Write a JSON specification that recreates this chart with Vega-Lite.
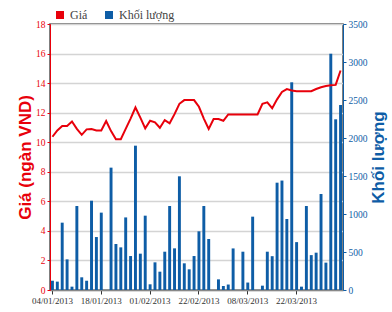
{
  "$schema": "https://vega.github.io/schema/vega-lite/v6.json",
  "width": 293,
  "height": 266,
  "autosize": {"type": "none"},
  "padding": {"left": 50, "top": 24, "right": 49, "bottom": 22},
  "background": "white",
  "config": {
    "view": {"stroke": "#555555", "strokeWidth": 1.5},
    "font": "Liberation Sans Narrow"
  },
  "data": {
    "values": [
      {"date": "04/01/2013", "price": 10.37, "volume": 122},
      {"date": "07/01/2013", "price": 10.8, "volume": 110},
      {"date": "08/01/2013", "price": 11.1, "volume": 886},
      {"date": "09/01/2013", "price": 11.1, "volume": 403},
      {"date": "10/01/2013", "price": 11.4, "volume": 44},
      {"date": "11/01/2013", "price": 10.9, "volume": 1105},
      {"date": "14/01/2013", "price": 10.5, "volume": 167},
      {"date": "15/01/2013", "price": 10.87, "volume": 122},
      {"date": "16/01/2013", "price": 10.9, "volume": 1175},
      {"date": "17/01/2013", "price": 10.8, "volume": 697},
      {"date": "18/01/2013", "price": 10.8, "volume": 1018},
      {"date": "21/01/2013", "price": 11.43, "volume": 0},
      {"date": "22/01/2013", "price": 10.75, "volume": 1610},
      {"date": "23/01/2013", "price": 10.2, "volume": 605},
      {"date": "24/01/2013", "price": 10.2, "volume": 561},
      {"date": "25/01/2013", "price": 10.9, "volume": 955},
      {"date": "28/01/2013", "price": 11.6, "volume": 447},
      {"date": "29/01/2013", "price": 12.35, "volume": 1899},
      {"date": "30/01/2013", "price": 11.66, "volume": 478},
      {"date": "31/01/2013", "price": 10.94, "volume": 978},
      {"date": "01/02/2013", "price": 11.45, "volume": 75},
      {"date": "04/02/2013", "price": 11.35, "volume": 364},
      {"date": "05/02/2013", "price": 10.98, "volume": 241},
      {"date": "06/02/2013", "price": 11.5, "volume": 504},
      {"date": "07/02/2013", "price": 11.28, "volume": 1105},
      {"date": "08/02/2013", "price": 11.9, "volume": 548},
      {"date": "18/02/2013", "price": 12.6, "volume": 1496},
      {"date": "19/02/2013", "price": 12.85, "volume": 351},
      {"date": "20/02/2013", "price": 12.85, "volume": 272},
      {"date": "21/02/2013", "price": 12.85, "volume": 447},
      {"date": "22/02/2013", "price": 12.4, "volume": 772},
      {"date": "25/02/2013", "price": 11.6, "volume": 1105},
      {"date": "26/02/2013", "price": 10.9, "volume": 671},
      {"date": "27/02/2013", "price": 11.57, "volume": 0},
      {"date": "28/02/2013", "price": 11.57, "volume": 140},
      {"date": "01/03/2013", "price": 11.45, "volume": 53},
      {"date": "04/03/2013", "price": 11.88, "volume": 72},
      {"date": "05/03/2013", "price": 11.88, "volume": 547},
      {"date": "06/03/2013", "price": 11.88, "volume": 0},
      {"date": "07/03/2013", "price": 11.88, "volume": 504},
      {"date": "08/03/2013", "price": 11.88, "volume": 98},
      {"date": "11/03/2013", "price": 11.88, "volume": 965},
      {"date": "12/03/2013", "price": 11.88, "volume": 0},
      {"date": "13/03/2013", "price": 12.6, "volume": 57},
      {"date": "14/03/2013", "price": 12.7, "volume": 504},
      {"date": "15/03/2013", "price": 12.3, "volume": 445},
      {"date": "18/03/2013", "price": 12.9, "volume": 1412},
      {"date": "19/03/2013", "price": 13.4, "volume": 1440},
      {"date": "20/03/2013", "price": 13.6, "volume": 934},
      {"date": "21/03/2013", "price": 13.5, "volume": 2733},
      {"date": "22/03/2013", "price": 13.45, "volume": 630},
      {"date": "25/03/2013", "price": 13.45, "volume": 44},
      {"date": "26/03/2013", "price": 13.45, "volume": 1105},
      {"date": "27/03/2013", "price": 13.45, "volume": 459},
      {"date": "28/03/2013", "price": 13.6, "volume": 491},
      {"date": "29/03/2013", "price": 13.72, "volume": 1263},
      {"date": "01/04/2013", "price": 13.8, "volume": 360},
      {"date": "02/04/2013", "price": 13.85, "volume": 3109},
      {"date": "03/04/2013", "price": 13.88, "volume": 2246},
      {"date": "04/04/2013", "price": 14.85, "volume": 2434}
    ]
  },
  "encoding": {
    "x": {
      "field": "date",
      "type": "ordinal",
      "sort": null,
      "scale": {"paddingInner": 0.4, "paddingOuter": 0.2},
      "axis": {
        "title": null,
        "values": ["04/01/2013", "18/01/2013", "01/02/2013", "22/02/2013", "08/03/2013", "22/03/2013"],
        "labelAngle": 0,
        "labelFont": "Liberation Sans Narrow",
        "labelFontSize": 9,
        "labelColor": "#333333",
        "labelPadding": 2,
        "domainColor": "#888888",
        "domainWidth": 1.5,
        "tickColor": "#333333",
        "tickSize": 4,
        "grid": false
      }
    }
  },
  "layer": [
    {
      "mark": {"type": "bar"},
      "encoding": {
        "y": {
          "field": "volume",
          "type": "quantitative",
          "scale": {"domain": [0, 3500]},
          "axis": {
            "orient": "right",
            "title": "Khối lượng",
            "titleAngle": -90,
            "titleBaseline": "top",
            "titleFont": "Liberation Sans",
            "titleFontSize": 17,
            "titleFontWeight": "bold",
            "titleColor": "#0e5da6",
            "titlePadding": 3,
            "values": [0, 500, 1000, 1500, 2000, 2500, 3000, 3500],
            "format": "d",
            "labelFont": "Liberation Sans Narrow",
            "labelFontSize": 9.5,
            "labelColor": "#0e5da6",
            "labelPadding": 2,
            "domainColor": "#0e5da6",
            "tickColor": "#0e5da6",
            "tickSize": 3,
            "grid": false
          }
        },
        "color": {
          "datum": "Khối lượng",
          "scale": {"domain": ["Giá", "Khối lượng"], "range": ["#e8000b", "#0e5da6"]},
          "legend": {
            "orient": "none",
            "legendX": 4,
            "legendY": -15,
            "direction": "horizontal",
            "title": null,
            "symbolType": "square",
            "symbolSize": 64,
            "symbolStrokeWidth": 0,
            "labelFont": "Liberation Sans Narrow",
            "labelFontSize": 12,
            "labelColor": "#444444",
            "labelOffset": 4,
            "columnPadding": 15,
            "padding": 0
          }
        }
      }
    },
    {
      "mark": {"type": "line", "strokeWidth": 2},
      "encoding": {
        "y": {
          "field": "price",
          "type": "quantitative",
          "scale": {"domain": [0, 18]},
          "axis": {
            "orient": "left",
            "title": "Giá (ngàn VND)",
            "titleFont": "Liberation Sans",
            "titleFontSize": 17,
            "titleFontWeight": "bold",
            "titleColor": "#e8000b",
            "titlePadding": 1,
            "values": [0, 2, 4, 6, 8, 10, 12, 14, 16, 18],
            "labelFont": "Liberation Sans Narrow",
            "labelFontSize": 9.5,
            "labelColor": "#e8000b",
            "labelPadding": 2,
            "domainColor": "#e8000b",
            "tickColor": "#e8000b",
            "tickSize": 3,
            "grid": true,
            "gridColor": "#d4d4d4",
            "gridWidth": 1.5
          }
        },
        "color": {"datum": "Giá"}
      }
    }
  ],
  "resolve": {"scale": {"y": "independent"}}
}
